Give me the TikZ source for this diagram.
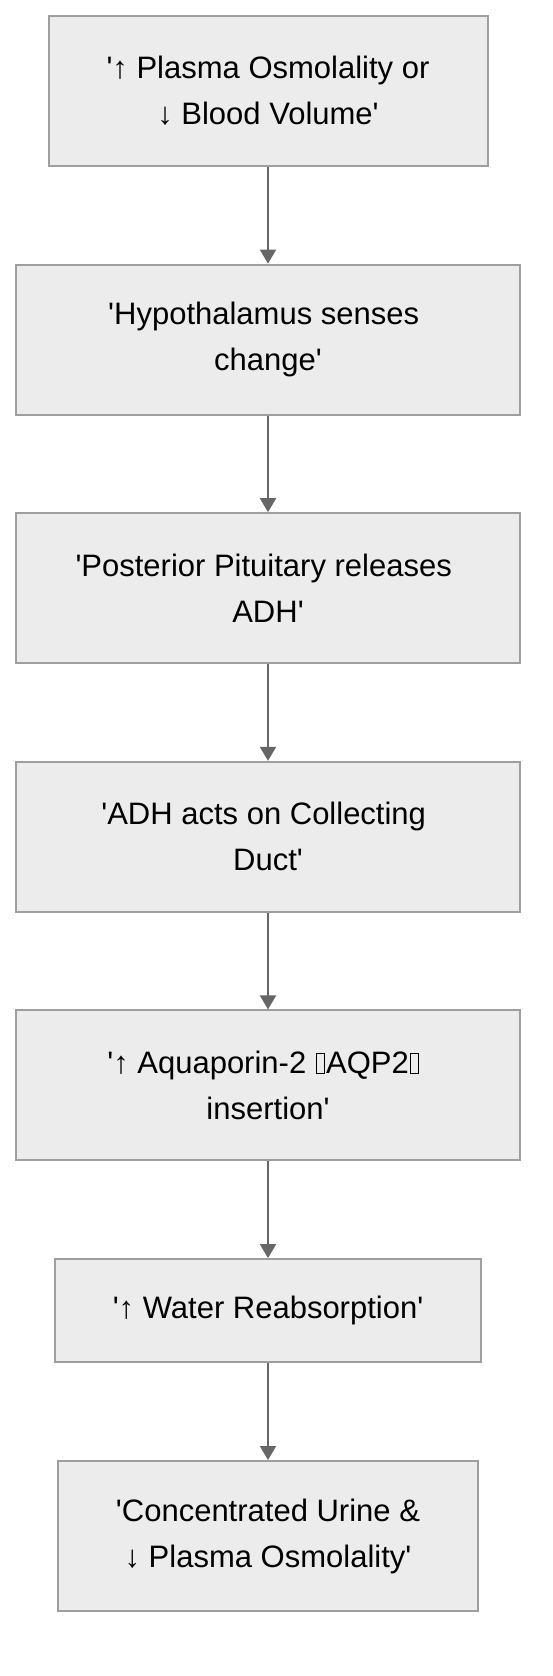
\documentclass[tikz,border=0pt]{standalone}
\usepackage{fontspec}
\setmainfont{Liberation Sans}[Ligatures=TeXOff]
\usetikzlibrary{arrows.meta}
\definecolor{boxfill}{HTML}{ECECEC}
\definecolor{boxline}{HTML}{9E9E9E}
\definecolor{arrowcol}{HTML}{666666}
\newcommand\tofubox{\kern1.2pt{\setlength\fboxsep{0pt}\setlength\fboxrule{0.9pt}\fbox{\rule{0pt}{20pt}\hspace{7pt}}}\kern1.2pt}
\newcommand\trailsp{\hbox to 8.6pt{}}
\begin{document}
\begin{tikzpicture}[x=1pt,y=-1pt,
  flowbox/.style={draw=boxline, fill=boxfill, line width=2pt, inner sep=0pt,
    align=center, text=black, font=\fontsize{31pt}{46pt}\selectfont},
  flowarrow/.style={draw=arrowcol, line width=2pt, -{Triangle[width=16pt,length=14pt]}}]
\useasboundingbox (0,0) rectangle (552,1676);
\node[flowbox, minimum width=439pt, minimum height=150pt] (n1) at (268,91) {'↑ Plasma Osmolality or\\↓ Blood Volume'};
\node[flowbox, minimum width=504pt, minimum height=150pt] (n2) at (268,339.6) {'Hypothalamus senses\trailsp\\change'};
\node[flowbox, minimum width=504pt, minimum height=150pt] (n3) at (268,588.2) {'Posterior Pituitary releases\trailsp\\ADH'};
\node[flowbox, minimum width=504pt, minimum height=150pt] (n4) at (268,836.8) {'ADH acts on Collecting\trailsp\\Duct'};
\node[flowbox, minimum width=504pt, minimum height=150pt] (n5) at (268,1085.4) {'↑ Aquaporin-2 \tofubox AQP2\tofubox\trailsp\\insertion'};
\node[flowbox, minimum width=426pt, minimum height=103pt] (n6) at (268,1310.6) {'↑ Water Reabsorption'};
\node[flowbox, minimum width=420pt, minimum height=150pt] (n7) at (268,1536) {'Concentrated Urine \&\\↓ Plasma Osmolality'};
\draw[flowarrow] (n1.south) -- (n2.north);
\draw[flowarrow] (n2.south) -- (n3.north);
\draw[flowarrow] (n3.south) -- (n4.north);
\draw[flowarrow] (n4.south) -- (n5.north);
\draw[flowarrow] (n5.south) -- (n6.north);
\draw[flowarrow] (n6.south) -- (n7.north);
\end{tikzpicture}
\end{document}
